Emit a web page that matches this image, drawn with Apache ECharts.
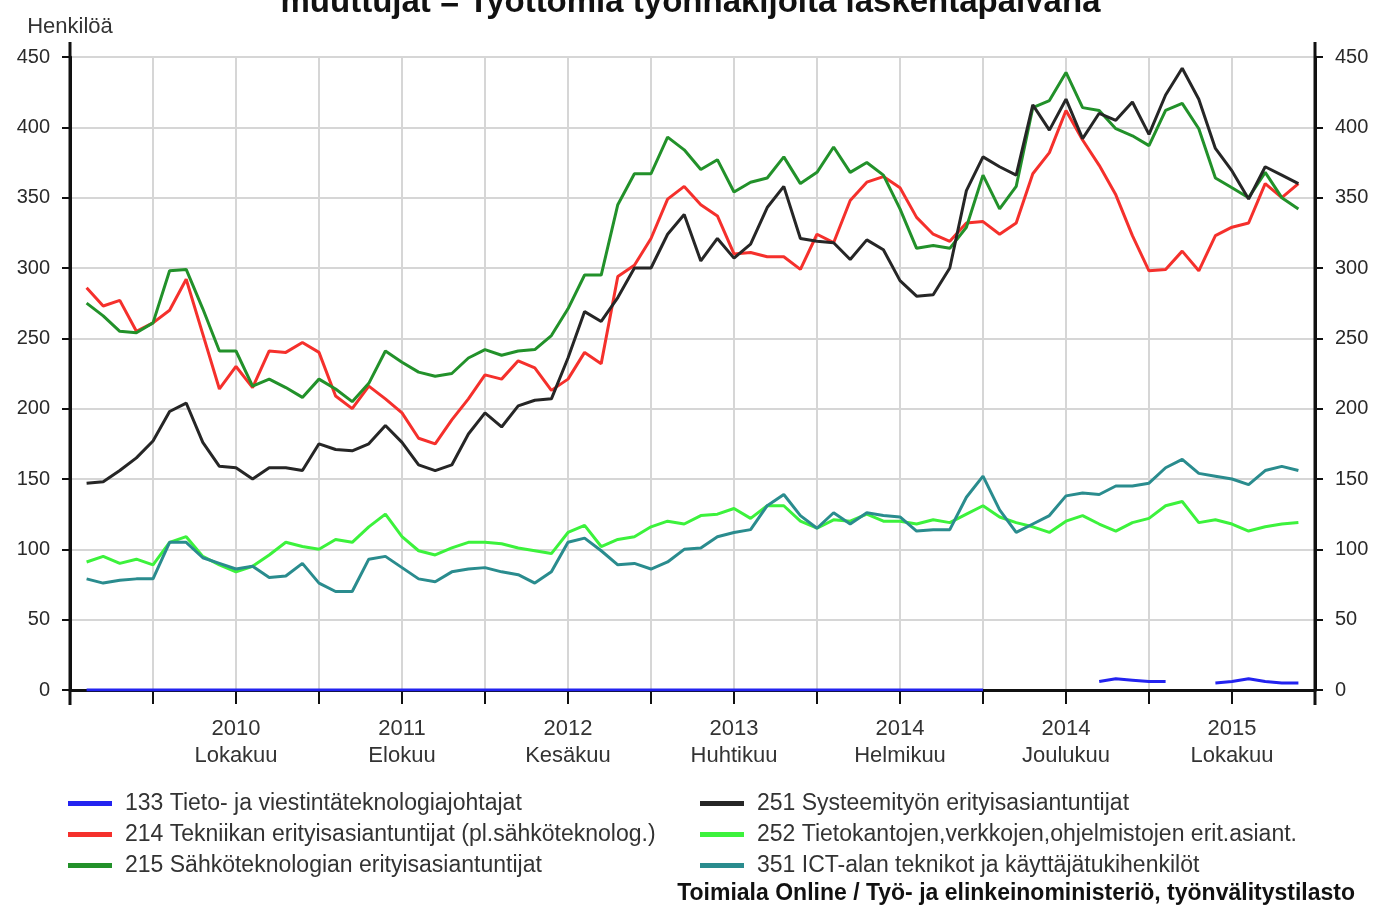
<!DOCTYPE html>
<html>
<head>
<meta charset="utf-8">
<title>Työttömät työnhakijat</title>
<script src="https://cdn.jsdelivr.net/npm/echarts@6/dist/echarts.min.js"></script>
<style>
  html, body { margin: 0; padding: 0; background: #fff; }
  #chart { width: 1381px; height: 905px; }
</style>
</head>
<body>
<div id="chart"></div>
<script>
// kuukaudet joulukuu 2009 .. maaliskuu 2016 (akselin päät ilman arvoja)
const monthNames = ['Tammikuu', 'Helmikuu', 'Maaliskuu', 'Huhtikuu', 'Toukokuu', 'Kesäkuu',
  'Heinäkuu', 'Elokuu', 'Syyskuu', 'Lokakuu', 'Marraskuu', 'Joulukuu'];
const months = [];
for (let k = 0; k < 76; k++) {
  months.push((2009 + Math.floor((11 + k) / 12)) + '\n' + monthNames[(11 + k) % 12]);
}

// arvot tammikuu 2010 .. helmikuu 2016
const s133 = [
  0, 0, 0, 0, 0, 0, 0, 0, 0, 0,
  0, 0, 0, 0, 0, 0, 0, 0, 0, 0,
  0, 0, 0, 0, 0, 0, 0, 0, 0, 0,
  0, 0, 0, 0, 0, 0, 0, 0, 0, 0,
  0, 0, 0, 0, 0, 0, 0, 0, 0, 0,
  0, 0, 0, 0, 0, null, null, null, null, null,
  null, 6, 8, 7, 6, 6, null, null, 5, 6,
  8, 6, 5, 5
];
const s214 = [
  286, 273, 277, 255, 261, 270, 292, 253, 214, 230,
  215, 241, 240, 247, 240, 209, 200, 216, 207, 197,
  179, 175, 192, 207, 224, 221, 234, 229, 213, 221,
  240, 232, 294, 302, 321, 349, 358, 345, 337, 310,
  311, 308, 308, 299, 324, 318, 348, 361, 365, 357,
  336, 324, 319, 332, 333, 324, 332, 367, 382, 412,
  391, 373, 352, 323, 298, 299, 312, 298, 323, 329,
  332, 360, 350, 360
];
const s215 = [
  275, 266, 255, 254, 261, 298, 299, 271, 241, 241,
  216, 221, 215, 208, 221, 214, 205, 218, 241, 233,
  226, 223, 225, 236, 242, 238, 241, 242, 252, 271,
  295, 295, 345, 367, 367, 393, 384, 370, 377, 354,
  361, 364, 379, 360, 368, 386, 368, 375, 366, 342,
  314, 316, 314, 329, 366, 342, 358, 414, 419, 439,
  414, 412, 399, 394, 387, 412, 417, 399, 364, 357,
  350, 368, 350, 342
];
const s251 = [
  147, 148, 156, 165, 177, 198, 204, 176, 159, 158,
  150, 158, 158, 156, 175, 171, 170, 175, 188, 176,
  160, 156, 160, 182, 197, 187, 202, 206, 207, 236,
  269, 262, 279, 300, 300, 324, 338, 305, 321, 307,
  317, 343, 358, 321, 319, 318, 306, 320, 313, 291,
  280, 281, 300, 355, 379, 372, 366, 416, 398, 420,
  392, 410, 405, 418, 395, 423, 442, 420, 385, 369,
  349, 372, 366, 360
];
const s252 = [
  91, 95, 90, 93, 89, 105, 109, 95, 89, 84,
  88, 96, 105, 102, 100, 107, 105, 116, 125, 109,
  99, 96, 101, 105, 105, 104, 101, 99, 97, 112,
  117, 102, 107, 109, 116, 120, 118, 124, 125, 129,
  122, 131, 131, 120, 115, 121, 120, 125, 120, 120,
  118, 121, 119, 125, 131, 123, 119, 116, 112, 120,
  124, 118, 113, 119, 122, 131, 134, 119, 121, 118,
  113, 116, 118, 119
];
const s351 = [
  79, 76, 78, 79, 79, 105, 105, 94, 90, 86,
  88, 80, 81, 90, 76, 70, 70, 93, 95, 87,
  79, 77, 84, 86, 87, 84, 82, 76, 84, 105,
  108, 99, 89, 90, 86, 91, 100, 101, 109, 112,
  114, 131, 139, 124, 115, 126, 118, 126, 124, 123,
  113, 114, 114, 137, 152, 128, 112, 118, 124, 138,
  140, 139, 145, 145, 147, 158, 164, 154, 152, 150,
  146, 156, 159, 156
];

const seriesDefs = [
  { name: '133 Tieto- ja viestintäteknologiajohtajat', data: s133, color: '#2323f0' },
  { name: '214 Tekniikan erityisasiantuntijat (pl.sähköteknolog.)', data: s214, color: '#f5302c' },
  { name: '215 Sähköteknologian erityisasiantuntijat', data: s215, color: '#22912a' },
  { name: '251 Systeemityön erityisasiantuntijat', data: s251, color: '#262626' },
  { name: '252 Tietokantojen,verkkojen,ohjelmistojen erit.asiant.', data: s252, color: '#3cf23c' },
  { name: '351 ICT-alan teknikot ja käyttäjätukihenkilöt', data: s351, color: '#2a8c8e' }
];

const FONT = '"Liberation Sans", Arial, sans-serif';
const every5 = (i) => i % 5 === 0;

const chart = echarts.init(document.getElementById('chart'));

const yAxisBase = {
  type: 'value',
  min: 0,
  max: 450,
  interval: 50,
  axisLine: { show: true, lineStyle: { color: '#111', width: 3 } },
  axisTick: { show: true, length: 8, lineStyle: { color: '#111', width: 2 } },
  axisLabel: { margin: 20, fontSize: 20, color: '#2a2a2a', fontFamily: FONT }
};

const legendBase = {
  orient: 'vertical',
  top: 787,
  itemGap: 8,
  itemWidth: 44,
  itemHeight: 5,
  icon: 'rect',
  textStyle: { fontSize: 23, color: '#333', fontFamily: FONT, padding: [0, 0, 0, 8] }
};

chart.setOption({
  animation: false,
  backgroundColor: '#fff',
  title: {
    text: 'muuttujat = Työttömiä työnhakijoita laskentapäivänä',
    left: 'center',
    top: -19,
    textStyle: { fontSize: 33, fontWeight: 'bold', color: '#111', fontFamily: FONT }
  },
  legend: [
    Object.assign({}, legendBase, { left: 63, data: seriesDefs.slice(0, 3).map(s => s.name) }),
    Object.assign({}, legendBase, { left: 695, data: seriesDefs.slice(3).map(s => s.name) })
  ],
  grid: { left: 70, right: 66, top: 57, bottom: 215 },
  xAxis: {
    type: 'category',
    data: months,
    boundaryGap: false,
    axisLine: { lineStyle: { color: '#111', width: 3 } },
    axisTick: { interval: every5, length: 14, lineStyle: { color: '#111', width: 2 } },
    axisLabel: {
      interval: (i) => i % 10 === 0 && i > 0,
      fontSize: 22,
      lineHeight: 27,
      margin: 25,
      color: '#333',
      fontFamily: FONT
    },
    splitLine: { show: true, interval: every5, lineStyle: { color: '#d6d6d6', width: 2 } }
  },
  yAxis: [
    Object.assign({}, yAxisBase, {
      position: 'left',
      name: 'Henkilöä',
      nameLocation: 'end',
      nameGap: 19,
      nameTextStyle: { fontSize: 22, color: '#333', fontFamily: FONT, align: 'center' },
      splitLine: { show: true, lineStyle: { color: '#d6d6d6', width: 2 } }
    }),
    Object.assign({}, yAxisBase, {
      position: 'right',
      splitLine: { show: false }
    })
  ],
  series: seriesDefs.map(s => ({
    name: s.name,
    type: 'line',
    yAxisIndex: 0,
    data: [null].concat(s.data, [null]),
    symbol: 'none',
    connectNulls: false,
    itemStyle: { color: s.color },
    lineStyle: { color: s.color, width: 3 },
    z: s.name.startsWith('133') ? 5 : 3
  })),
  graphic: [
    // pystyakselit jatkuvat hieman piirtoalueen yli
    { type: 'line', shape: { x1: 70, y1: 42, x2: 70, y2: 705 }, style: { stroke: '#111', lineWidth: 3 }, z: 10 },
    { type: 'line', shape: { x1: 1315, y1: 42, x2: 1315, y2: 705 }, style: { stroke: '#111', lineWidth: 3 }, z: 10 },
    {
      type: 'text',
      right: 26,
      top: 882,
      style: {
        text: 'Toimiala Online / Työ- ja elinkeinoministeriö, työnvälitystilasto',
        font: 'bold 23px ' + FONT,
        fill: '#111'
      }
    }
  ]
});
</script>
</body>
</html>
